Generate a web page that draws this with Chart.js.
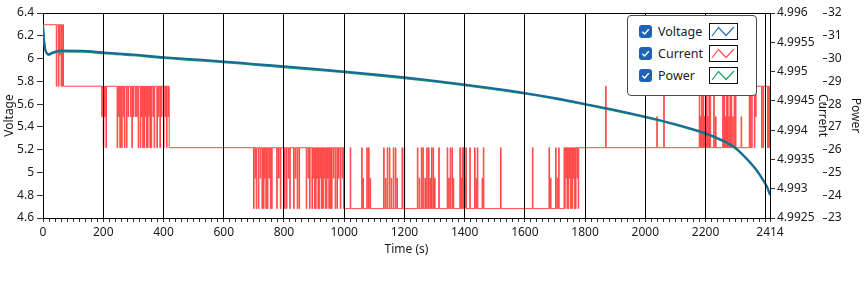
<!DOCTYPE html>
<html>
<head>
<meta charset="utf-8">
<script src="https://cdn.jsdelivr.net/npm/chart.js@4/dist/chart.umd.min.js"></script>
<style>
  body { margin: 0; background: #fff; }
  #wrap { position: relative; width: 865px; height: 288px; }
  #legend {
    position: absolute; left: 627px; top: 15px; width: 130px; height: 81px;
    box-sizing: border-box; border: 1px solid #4a4a4a; border-radius: 4px;
    background: #fff; font: 12.5px 'Noto Sans', sans-serif; color: #222;
  }
  .row { position: absolute; left: 0; width: 100%; height: 22px; }
  .chk { position: absolute; left: 11px; top: 4px; width: 13px; height: 13px; }
  .name { position: absolute; left: 30px; top: 2px; line-height: 17px; }
  .sample { position: absolute; left: 81px; top: 2px; width: 29px; height: 17px; }
</style>
</head>
<body>
<div id="wrap">
  <canvas id="chart" width="865" height="288"></canvas>
  <div id="legend"></div>
</div>
<script>
// axis ticks
const timeLabels = [0, 200, 400, 600, 800, 1000, 1200, 1400, 1600, 1800, 2000, 2200, 2414];
const voltageTicks = [4.6, 4.8, 5, 5.2, 5.4, 5.6, 5.8, 6, 6.2, 6.4];
const currentTicks = [4.9925, 4.993, 4.9935, 4.994, 4.9945, 4.995, 4.9955, 4.996];
const powerTicks = [23, 24, 25, 26, 27, 28, 29, 30, 31, 32];

// voltage / power samples
const sampleTime = [0, 3, 7, 11, 18, 25, 42, 64, 130,
  200, 300, 400, 500, 600, 700, 800, 900, 1000, 1100, 1200, 1300, 1400, 1500, 1600, 1700, 1800, 1900, 2000, 2100, 2200,
  2250, 2300, 2340, 2370, 2390, 2405, 2414];
const voltage = [6.29, 6.18, 6.09, 6.058, 6.04, 6.045, 6.063, 6.07, 6.068,
  6.054, 6.035, 6.012, 5.994, 5.975, 5.953, 5.932, 5.91, 5.887, 5.862, 5.835, 5.805, 5.773, 5.737, 5.698, 5.653, 5.602, 5.549, 5.49, 5.424, 5.345,
  5.29, 5.215, 5.112, 5.02, 4.94, 4.87, 4.805];
const power = [31.41, 30.86, 30.41, 30.25, 30.16, 30.19, 30.28, 30.31, 30.30,
  30.23, 30.14, 30.02, 29.93, 29.84, 29.73, 29.62, 29.51, 29.40, 29.27, 29.14, 28.99, 28.83, 28.65, 28.46, 28.23, 27.98, 27.71, 27.42, 27.09, 26.69,
  26.42, 26.04, 25.53, 25.07, 24.67, 24.32, 24.00];

// current is quantized: level values, then change times and level index
const currentLevels = [4.99266, 4.99318, 4.9937, 4.99423, 4.99475, 4.99528, 4.9958];
const currentTime = [
  0, 44, 46, 51, 53, 55, 57, 60, 62, 64, 66, 68,
  195, 197, 200, 202, 204, 207, 209, 211,
  246, 248, 251, 253, 255, 257, 261, 263, 266, 268, 270, 272,
  277, 279, 282, 284, 290, 292, 295, 297, 299, 301,
  306, 308, 311, 313, 316, 318,
  323, 325, 327, 329, 331, 333, 335, 337, 339, 341,
  343, 345, 347, 349, 351, 353, 355, 357, 359, 361,
  365, 367, 369, 371, 378, 380, 383, 385, 388, 390, 393, 395,
  400, 402, 405, 407, 410, 412, 415, 417, 419,
  699, 701, 704, 706, 708, 710, 715, 717, 721, 723, 727, 729,
  732, 734, 736, 738, 740, 742, 745, 747, 750, 752, 755, 757, 759, 761,
  776, 778, 782, 784, 788, 790, 802, 804, 808, 810, 814, 816, 819, 821,
  832, 834, 838, 840, 844, 846, 850, 852, 874, 876, 880, 882, 885, 887,
  893, 895, 897, 899, 901, 903, 905, 907, 909, 911, 913, 915, 917, 919, 921, 923,
  925, 927, 929, 931, 933, 935, 937, 939, 941, 943, 945, 947, 949, 951, 953, 955,
  958, 960, 964, 966, 970, 972, 976, 978, 981, 983, 987, 989, 993, 995, 998,
  1020, 1022, 1058, 1060, 1062, 1064, 1075, 1077, 1081, 1083, 1086, 1088,
  1131, 1133, 1137, 1139, 1143, 1145, 1150, 1152, 1156, 1158, 1163, 1165, 1170, 1172, 1175, 1177,
  1192, 1194, 1199, 1201,
  1243, 1245, 1249, 1251, 1256, 1258, 1261, 1263, 1268, 1270, 1274, 1276, 1280, 1282, 1285, 1287, 1290, 1292, 1295, 1297, 1300, 1302,
  1314, 1316, 1342, 1344, 1347, 1349, 1352, 1354, 1358, 1360, 1362, 1364,
  1384, 1386, 1388, 1390, 1392, 1394, 1396, 1398, 1400, 1402, 1404, 1406,
  1417, 1419, 1433, 1435, 1438, 1440, 1442, 1444, 1458, 1460, 1462, 1464,
  1519, 1521, 1625, 1627, 1680, 1682, 1685, 1687, 1702, 1704, 1707, 1709, 1712, 1714,
  1730, 1732, 1734, 1736, 1738, 1740, 1742, 1744, 1746, 1748, 1750, 1752,
  1754, 1756, 1758, 1760, 1762, 1764, 1766, 1768, 1770, 1773, 1775, 1777, 1779,
  1868, 1870, 2038, 2040, 2061, 2063,
  2179, 2181, 2183, 2185, 2187, 2189, 2191, 2193, 2195, 2197,
  2199, 2201, 2203, 2205, 2207, 2209, 2211, 2213, 2215, 2217,
  2227, 2229, 2233, 2235,
  2257, 2259, 2261, 2263, 2265, 2267, 2269, 2271, 2273, 2275, 2277, 2279,
  2281, 2283, 2285, 2287, 2290, 2292, 2295, 2297, 2299, 2301, 2318, 2320,
  2345, 2347, 2350, 2352, 2355, 2362, 2364, 2366, 2368, 2386, 2388, 2391, 2393, 2406, 2408, 2410, 2412, 2414
];
const currentLevel = [
  6, 4, 6, 4, 6, 5, 6, 4, 6, 4, 6, 4,
  3, 4, 2, 4, 3, 4, 2, 4,
  2, 4, 3, 4, 2, 4, 2, 4, 3, 4, 2, 4,
  2, 4, 3, 4, 3, 4, 2, 4, 3, 4,
  3, 4, 3, 4, 2, 4,
  2, 4, 3, 4, 2, 4, 2, 4, 3, 4,
  2, 4, 2, 4, 3, 4, 2, 4, 2, 4,
  3, 4, 2, 4, 2, 4, 3, 4, 2, 4, 3, 4,
  2, 4, 3, 4, 2, 4, 3, 4, 2,
  0, 2, 1, 2, 0, 2, 0, 2, 1, 2, 0, 2,
  0, 2, 1, 2, 0, 2, 0, 2, 1, 2, 0, 2, 0, 2,
  0, 2, 1, 2, 0, 2, 0, 2, 0, 2, 1, 2, 0, 2,
  0, 2, 1, 2, 0, 2, 0, 2, 0, 2, 1, 2, 0, 2,
  0, 2, 1, 2, 0, 2, 0, 2, 1, 2, 0, 2, 0, 2, 1, 2,
  0, 2, 0, 2, 1, 2, 0, 2, 0, 2, 1, 2, 0, 2, 0, 2,
  0, 2, 1, 2, 0, 2, 0, 2, 1, 2, 0, 2, 1, 2, 0,
  2, 0, 2, 0, 1, 0, 2, 0, 2, 0, 1, 0,
  2, 0, 1, 0, 2, 0, 2, 0, 1, 0, 2, 0, 2, 0, 1, 0,
  2, 0, 2, 0,
  2, 0, 1, 0, 2, 0, 2, 0, 1, 0, 2, 0, 2, 0, 1, 0, 2, 0, 2, 0, 1, 0,
  2, 0, 2, 0, 1, 0, 2, 0, 2, 0, 1, 0,
  2, 0, 1, 0, 2, 0, 2, 0, 1, 0, 2, 0,
  2, 0, 2, 0, 1, 0, 2, 0, 1, 0, 2, 0,
  2, 0, 2, 0, 2, 0, 1, 0, 2, 0, 1, 0, 2, 0,
  2, 0, 2, 1, 2, 0, 2, 0, 2, 1, 2, 0,
  2, 0, 2, 1, 2, 0, 2, 0, 2, 1, 2, 0, 2,
  4, 2, 3, 2, 4, 2,
  4, 2, 3, 2, 4, 2, 4, 2, 3, 2,
  4, 2, 4, 2, 3, 2, 4, 2, 4, 2,
  4, 2, 3, 2,
  4, 2, 4, 2, 3, 2, 4, 2, 4, 2, 3, 2,
  4, 2, 4, 2, 3, 2, 4, 2, 4, 2, 3, 2,
  4, 2, 4, 2, 4, 2, 4, 3, 4, 2, 4, 2, 4, 2, 4, 2, 4, 4
];

const BLUE = '#176a9b';
const RED = '#ff4545';
const GREEN = '#1e9466';
const TIME_MAX = 2414;

const fmt = (v, d) => String(Number(v.toFixed(d)));

// minor ticks every 20 s plus the end value
function timeTickValues() {
  const out = [];
  for (let v = 0; v <= 2400; v += 20) out.push(v);
  out.push(TIME_MAX);
  return out;
}

// top edge of the plot frame
const framePlugin = {
  id: 'frame',
  afterDraw(chart) {
    const { ctx, chartArea: a } = chart;
    ctx.save();
    ctx.strokeStyle = '#000';
    ctx.lineWidth = 1;
    ctx.beginPath();
    ctx.moveTo(a.left, Math.round(a.top) + 0.5);
    ctx.lineTo(a.right, Math.round(a.top) + 0.5);
    ctx.stroke();
    ctx.restore();
  }
};

const tickFont = { family: "'Noto Sans', sans-serif", size: 12 };

const chart = new Chart(document.getElementById('chart'), {
  type: 'line',
  data: {
    datasets: [
      {
        label: 'Voltage',
        data: sampleTime.map((t, i) => ({ x: t, y: voltage[i] })),
        yAxisID: 'yV',
        borderColor: BLUE,
        borderWidth: 2,
        pointRadius: 0,
        cubicInterpolationMode: 'monotone',
        order: 1
      },
      {
        label: 'Current',
        data: currentTime.map((t, i) => ({ x: t, y: currentLevels[currentLevel[i]] })),
        yAxisID: 'yC',
        borderColor: RED,
        borderWidth: 1,
        pointRadius: 0,
        stepped: 'before',
        order: 3
      },
      {
        label: 'Power',
        data: sampleTime.map((t, i) => ({ x: t, y: power[i] })),
        yAxisID: 'yP',
        borderColor: GREEN,
        borderWidth: 2,
        pointRadius: 0,
        cubicInterpolationMode: 'monotone',
        order: 2
      }
    ]
  },
  options: {
    responsive: false,
    animation: false,
    layout: { padding: { top: 13, left: 0, right: 0, bottom: 0 } },
    plugins: { legend: { display: false }, tooltip: { enabled: false } },
    scales: {
      x: {
        type: 'linear',
        min: 0,
        max: TIME_MAX,
        afterBuildTicks: s => { s.ticks = timeTickValues().map(v => ({ value: v })); },
        afterFit: s => { s.height = 70; },
        border: { color: '#000', z: 1 },
        grid: {
          z: 1,
          color: c => (c.tick && c.tick.value > 0 && c.tick.value <= 2400 && c.tick.value % 200 === 0) ? '#000' : 'rgba(0,0,0,0)',
          tickColor: '#333',
          tickLength: 4
        },
        ticks: {
          autoSkip: false,
          maxRotation: 0,
          padding: 3,
          color: '#1a1a1a',
          font: tickFont,
          callback: v => timeLabels.includes(v) ? String(v) : ''
        },
        title: { display: true, text: 'Time (s)', color: '#1a1a1a', font: tickFont, padding: { top: 0, bottom: 31 } }
      },
      yV: {
        position: 'left',
        min: 4.6,
        max: 6.4,
        afterBuildTicks: s => { s.ticks = voltageTicks.map(v => ({ value: v })); },
        afterFit: s => { s.width = 43; },
        border: { color: '#000' },
        grid: { drawOnChartArea: false, tickColor: '#333', tickLength: 6 },
        ticks: { padding: 3, color: '#1a1a1a', font: tickFont, callback: v => fmt(v, 1) },
        title: { display: true, text: 'Voltage', color: '#1a1a1a', font: tickFont, padding: { top: 2, bottom: 0 } }
      },
      yC: {
        position: 'right',
        min: 4.9925,
        max: 4.996,
        afterBuildTicks: s => { s.ticks = currentTicks.map(v => ({ value: v })); },
        afterFit: s => { s.width = 53; },
        border: { color: '#000' },
        grid: { drawOnChartArea: false, tickColor: '#333', tickLength: 5 },
        ticks: { padding: 2, color: '#1a1a1a', font: tickFont, callback: v => fmt(v, 4) },
        title: { display: true, text: 'Current', color: '#1a1a1a', font: tickFont, padding: { top: -7, bottom: 0 } }
      },
      yP: {
        position: 'right',
        min: 23,
        max: 32,
        afterBuildTicks: s => { s.ticks = powerTicks.map(v => ({ value: v })); },
        afterFit: s => { s.width = 42; },
        border: { display: false },
        grid: { drawOnChartArea: false, tickColor: '#333', tickLength: 4 },
        ticks: { padding: 1, color: '#1a1a1a', font: tickFont, callback: v => fmt(v, 0) },
        title: { display: true, text: 'Power', color: '#1a1a1a', font: tickFont, padding: { top: 2, bottom: 0 } }
      }
    }
  },
  plugins: [framePlugin]
});

// checkbox legend like the instrument panel
const legendColors = { Voltage: '#2874b8', Current: '#ff5050', Power: '#1fa060' };
const legend = document.getElementById('legend');
chart.data.datasets.forEach((ds, i) => {
  const row = document.createElement('div');
  row.className = 'row';
  row.style.top = (5 + i * 22) + 'px';
  row.innerHTML =
    '<svg class="chk" viewBox="0 0 13 13"><rect x="0" y="0" width="13" height="13" rx="3" fill="#1e63b5"/>' +
    '<path d="M3.3 6.8 L5.6 9 L9.8 4.2" fill="none" stroke="#fff" stroke-width="1.4"/></svg>' +
    '<span class="name">' + ds.label + '</span>' +
    '<svg class="sample" viewBox="0 0 29 17"><rect x="0.5" y="0.5" width="28" height="16" fill="#fff" stroke="#111"/>' +
    '<polyline points="3,13 9.5,4.5 17,12.5 25,4" fill="none" stroke="' + legendColors[ds.label] + '" stroke-width="1.2"/></svg>';
  legend.appendChild(row);
});
</script>
</body>
</html>
